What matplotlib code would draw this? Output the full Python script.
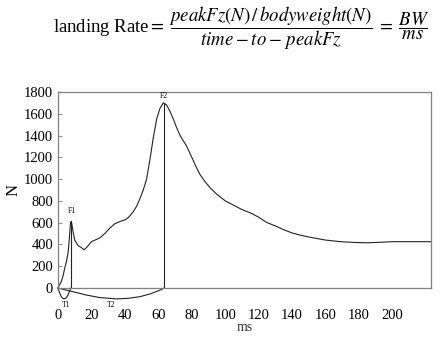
import numpy as np
import matplotlib
matplotlib.use('Agg')
import matplotlib.pyplot as plt

plt.rcParams['font.family'] = 'Liberation Serif'
plt.rcParams['mathtext.fontset'] = 'stix'

# force curve
ms = [0, 2, 3, 4, 5, 6, 6.5, 7, 7.5, 8, 9, 10, 12, 14, 15.5, 17, 20, 25, 28, 31, 34,
      37, 40, 42, 45, 47, 49, 51, 53, 55, 57, 59, 61, 63, 65, 67, 69, 71, 73, 75,
      77, 80, 83, 85, 88, 91, 95, 100, 105, 110, 115, 120, 125, 130, 135, 140,
      145, 151, 160, 169, 177, 185, 193, 200, 210, 223]
force = [0, 60, 110, 180, 240, 320, 400, 500, 600, 610, 520, 440, 390, 370, 350, 370,
         425, 460, 500, 550, 590, 610, 625, 645, 700, 750, 820, 900, 1000, 1180,
         1380, 1550, 1650, 1700, 1680, 1620, 1550, 1470, 1400, 1350, 1300, 1200,
         1100, 1040, 975, 920, 860, 800, 760, 720, 690, 650, 600, 570, 535, 505,
         485, 465, 440, 425, 418, 415, 420, 425, 425, 425]

# peaks
t1, f1 = 7.8, 610
t2, f2 = 63.5, 1700

# interval brackets under the axis
arc1_x = [0, 1, 2, 3, 4, 5, 6, 7, 7.8]
arc1_y = [0, -45, -80, -97, -100, -90, -65, -25, 0]
arc2_x = [0, 5, 10, 17, 25, 35, 42, 49, 55, 61, 63.5]
arc2_y = [0, -20, -38, -65, -88, -100, -95, -80, -55, -20, 0]

xticks = [0, 20, 40, 60, 80, 100, 120, 140, 160, 180, 200]
yticks = [0, 200, 400, 600, 800, 1000, 1200, 1400, 1600, 1800]

fig = plt.figure(figsize=(4.41, 3.38), dpi=100)
ax = fig.add_axes([0.1315, 0.148, 0.8455, 0.580])

lc = '#222222'
ax.plot(ms, force, color=lc, lw=0.8, clip_on=False)
ax.plot([t1, t1], [0, f1], color=lc, lw=0.8)
ax.plot([t2, t2], [0, f2], color=lc, lw=0.8)
ax.plot(arc1_x, arc1_y, color=lc, lw=0.8, clip_on=False)
ax.plot(arc2_x, arc2_y, color=lc, lw=0.8, clip_on=False)

ax.text(t1 + 0.5, f1 + 60, 'F1', fontsize=5.5, ha='center', va='bottom')
ax.text(t2, f2 + 25, 'F2', fontsize=5.5, ha='center', va='bottom')
ax.text(5, -160, 'T1', fontsize=5.5, ha='center', va='center', clip_on=False)
ax.text(31.5, -160, 'T2', fontsize=5.5, ha='center', va='center', clip_on=False)

ax.set_xlim(0, 223)
ax.set_ylim(0, 1800)
ax.set_xticks(xticks)
ax.set_yticks(yticks)
ax.tick_params(axis='x', length=0, pad=15, labelsize=10.5)
ax.tick_params(axis='y', direction='in', length=3, color='#909090', labelsize=10.5)
for s in ax.spines.values():
    s.set_color('#808080')
    s.set_linewidth(0.9)

ax.set_xlabel('ms', fontsize=10, color='#333333')
ax.xaxis.set_label_coords(0.5, -0.2)
ax.xaxis.label.set_va('center')
ax.set_ylabel('N', fontsize=12, labelpad=2)

fig.text(0.12, 0.917,
         r'landing Rate$=\;\dfrac{peakFz(N)\,/\,bodyweight(N)}{time-to-\,peakFz}\;=\;\dfrac{BW}{ms}$',
         fontsize=13.5, ha='left', va='center')

fig.savefig('out.png', dpi=100)
